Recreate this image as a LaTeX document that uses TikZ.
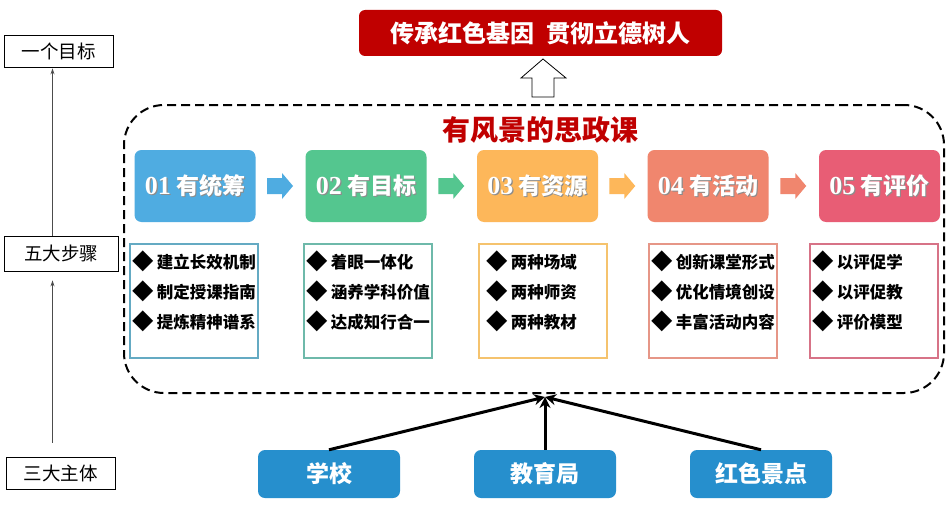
\documentclass[tikz,border=0pt]{standalone}
\usepackage{fontspec}
\setmainfont{Noto Sans CJK SC}
\newfontfamily\numfont{Liberation Serif}
\usetikzlibrary{arrows.meta,calc}
\definecolor{titlered}{HTML}{C00000}
\definecolor{cA}{HTML}{4FACE1}
\definecolor{cB}{HTML}{54C68F}
\definecolor{cC}{HTML}{FDB75A}
\definecolor{cD}{HTML}{F0866E}
\definecolor{cE}{HTML}{E85D75}
\definecolor{lA}{HTML}{64AAC3}
\definecolor{lB}{HTML}{6EB9AA}
\definecolor{lC}{HTML}{F5C36E}
\definecolor{lD}{HTML}{E69687}
\definecolor{lE}{HTML}{D77387}
\definecolor{srcblue}{HTML}{268FCD}
\newcommand\shtext[1]{\makebox[0pt][l]{\hspace{1.3pt}\raisebox{-1.3pt}{\textcolor{black!45}{#1}}}#1}
\newcommand\dia{\raisebox{-0.5pt}{\scalebox{1.3}{◆}}\hspace{3pt}}
\newcommand\num[1]{{\numfont\fontsize{26}{26}\selectfont #1}}
\tikzset{
  lbl/.style={draw, line width=0.9pt, minimum width=109pt, minimum height=32pt, inner sep=0pt, font=\fontsize{18.5}{18.5}\selectfont},
  leftarrow/.style={draw=black!70, line width=0.8pt, -{Stealth[length=6pt,width=4pt]}},
  stepbox/.style={rounded corners=7pt, minimum width=121pt, minimum height=72pt, inner sep=0pt, text=white, font=\bfseries\fontsize{23}{23}\selectfont},
  itembox/.style={draw, line width=1.6pt, minimum width=128pt, minimum height=114pt, inner sep=0pt},
  itemtext/.style={align=left, inner sep=0pt, font=\bfseries\fontsize{16.5}{30}\selectfont},
  srcbox/.style={rounded corners=7pt, fill=srcblue, minimum width=142pt, minimum height=48pt, inner sep=0pt, text=white, font=\bfseries\fontsize{23}{23}\selectfont},
  srcarrow/.style={line width=3pt, -{Stealth[length=11pt,width=11pt]}},
  blockarrow/.pic={\fill (-13.5,-8) -- (1.5,-8) -- (1.5,-13) -- (12.5,0) -- (1.5,13) -- (1.5,8) -- (-13.5,8) -- cycle;}
}
\begin{document}
\begin{tikzpicture}[x=1pt,y=-1pt]
\useasboundingbox[fill=white] (0,0) rectangle (952,519);

% left column
\node[lbl] (goal) at (58.5,51) {一个目标};
\node[lbl, minimum width=114pt, minimum height=35pt] (steps) at (61,253.5) {五大步骤};
\node[lbl] (subj) at (60.5,473) {三大主体};
\draw[leftarrow] ($(subj.north)+(-8,-14)$) -- ($(steps.south)+(-8.5,9)$);
\draw[leftarrow] ($(steps.north)+(-8.5,0)$) -- ($(goal.south)+(-6,1)$);

% goal title
\node[fill=titlered, rounded corners=6pt, minimum width=363pt, minimum height=46pt, inner sep=0pt, text=white, font=\bfseries\fontsize{24}{24}\selectfont] (title) at (540.5,33) {传承红色基因\hspace{0.5em}贯彻立德树人};
\draw[line width=0.8pt, fill=white] (543,59) -- (566,78) -- (554,78) -- (554,97) -- (532,97) -- (532,78) -- (521,78) -- cycle;

% dashed frame
\node[draw, dash pattern=on 9pt off 5pt, line width=2pt, rounded corners=40pt, minimum width=820pt, minimum height=288pt, inner sep=0pt] (frame) at (534,249) {};
\node[text=titlered, font=\bfseries\fontsize{28}{28}\selectfont] (head) at (540,130) {有风景的思政课};

% step boxes
\node[stepbox, fill=cA] (b1) at (195,186) {\shtext{\num{01} 有统筹}};
\node[stepbox, fill=cB] (b2) at (366,186) {\shtext{\num{02} 有目标}};
\node[stepbox, fill=cC] (b3) at (537.5,186) {\shtext{\num{03} 有资源}};
\node[stepbox, fill=cD] (b4) at (708,186) {\shtext{\num{04} 有活动}};
\node[stepbox, fill=cE] (b5) at (879.5,186) {\shtext{\num{05} 有评价}};

\pic[fill=cA] at ($(b1.east)!0.5!(b2.west)$) {blockarrow};
\pic[fill=cB] at ($(b2.east)!0.5!(b3.west)$) {blockarrow};
\pic[fill=cC] at ($(b3.east)!0.5!(b4.west)$) {blockarrow};
\pic[fill=cD] at ($(b4.east)!0.5!(b5.west)$) {blockarrow};

% item boxes
\node[itembox, draw=lA] (l1) at (194,301) {};
\node[itembox, draw=lB] (l2) at (368,301) {};
\node[itembox, draw=lC] (l3) at (543,301) {};
\node[itembox, draw=lD] (l4) at (713,301) {};
\node[itembox, draw=lE] (l5) at (874,301) {};

\node[itemtext, anchor=north west] (t1) at ($(l1.north west)+(3,7)$) {\dia 建立长效机制\\\dia 制定授课指南\\\dia 提炼精神谱系};
\node[itemtext, anchor=north west] (t2) at ($(l2.north west)+(3,7)$) {\dia 着眼一体化\\\dia 涵养学科价值\\\dia 达成知行合一};
\node[itemtext, anchor=north west] (t3) at ($(l3.north west)+(8,7)$) {\dia 两种场域\\\dia 两种师资\\\dia 两种教材};
\node[itemtext, anchor=north west] (t4) at ($(l4.north west)+(3,7)$) {\dia 创新课堂形式\\\dia 优化情境创设\\\dia 丰富活动内容};
\node[itemtext, anchor=north west] (t5) at ($(l5.north west)+(3,7)$) {\dia 以评促学\\\dia 以评促教\\\dia 评价模型};

% subjects
\node[srcbox] (s1) at (329,474) {学校};
\node[srcbox] (s2) at (545,474) {教育局};
\node[srcbox] (s3) at (761,474) {红色景点};
\coordinate (meet) at (545,397);
\draw[srcarrow] (s1.north) -- (meet);
\draw[srcarrow] (s2.north) -- (meet);
\draw[srcarrow] (s3.north) -- (meet);
\end{tikzpicture}
\end{document}
